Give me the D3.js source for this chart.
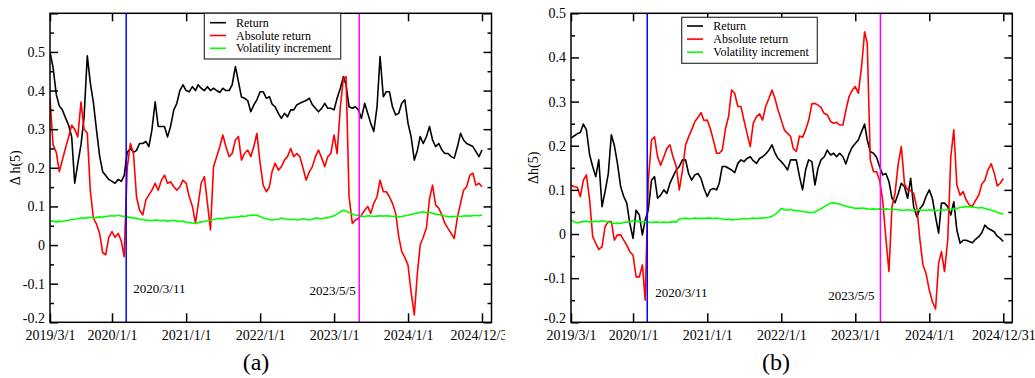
<!DOCTYPE html>
<html><head><meta charset="utf-8">
<script src="https://cdn.jsdelivr.net/npm/d3@7"></script>
<style>
body{margin:0;background:#fff}
svg{display:block}
text{font-family:"Liberation Serif","Times New Roman",serif;fill:#000}
</style>
</head><body>
<svg id="chart" width="1035" height="378"></svg>
<script>
// ---------------- DATA ----------------
const sampleDates = [
"2019-03-01","2019-03-16","2019-04-01","2019-04-16","2019-05-01","2019-05-16","2019-06-01","2019-06-16","2019-07-01","2019-07-16",
"2019-08-01","2019-08-16","2019-09-01","2019-09-16","2019-10-01","2019-10-16","2019-11-01","2019-11-16","2019-12-01","2019-12-16",
"2020-01-01","2020-01-16","2020-02-01","2020-02-16","2020-03-01","2020-03-16","2020-04-01","2020-04-16","2020-05-01","2020-05-16",
"2020-06-01","2020-06-16","2020-07-01","2020-07-16","2020-08-01","2020-08-16","2020-09-01","2020-09-16","2020-10-01","2020-10-16",
"2020-11-01","2020-11-16","2020-12-01","2020-12-16","2021-01-01","2021-01-16","2021-02-01","2021-02-16","2021-03-01","2021-03-16",
"2021-04-01","2021-04-16","2021-05-01","2021-05-16","2021-06-01","2021-06-16","2021-07-01","2021-07-16","2021-08-01","2021-08-16",
"2021-09-01","2021-09-16","2021-10-01","2021-10-16","2021-11-01","2021-11-16","2021-12-01","2021-12-16","2022-01-01","2022-01-16",
"2022-02-01","2022-02-16","2022-03-01","2022-03-16","2022-04-01","2022-04-16","2022-05-01","2022-05-16","2022-06-01","2022-06-16",
"2022-07-01","2022-07-16","2022-08-01","2022-08-16","2022-09-01","2022-09-16","2022-10-01","2022-10-16","2022-11-01","2022-11-16",
"2022-12-01","2022-12-16","2023-01-01","2023-01-16","2023-02-01","2023-02-16","2023-03-01","2023-03-16","2023-04-01","2023-04-16",
"2023-05-01","2023-05-16","2023-06-01","2023-06-16","2023-07-01","2023-07-16","2023-08-01","2023-08-16","2023-09-01","2023-09-16",
"2023-10-01","2023-10-16","2023-11-01","2023-11-16","2023-12-01","2023-12-16","2024-01-01","2024-01-16","2024-02-01","2024-02-16",
"2024-03-01","2024-03-16","2024-04-01","2024-04-16","2024-05-01","2024-05-16","2024-06-01","2024-06-16","2024-07-01","2024-07-16",
"2024-08-01","2024-08-16","2024-09-01","2024-09-16","2024-10-01","2024-10-16","2024-11-01","2024-11-16","2024-12-01","2024-12-16",
"2024-12-31"];

// Panel (a)
const returnA = [
0.50,0.46,0.39,0.36,0.35,0.33,0.31,0.28,0.16,0.21,
0.26,0.33,0.49,0.42,0.37,0.30,0.23,0.19,0.18,0.17,
0.165,0.16,0.17,0.165,0.18,0.24,0.25,0.24,0.245,0.263,
0.263,0.268,0.255,0.298,0.371,0.307,0.307,0.307,0.28,0.307,
0.35,0.367,0.40,0.415,0.40,0.397,0.41,0.40,0.415,0.406,
0.40,0.41,0.40,0.406,0.40,0.395,0.406,0.40,0.40,0.415,
0.462,0.423,0.383,0.38,0.374,0.345,0.363,0.376,0.397,0.397,
0.38,0.384,0.365,0.358,0.341,0.328,0.341,0.332,0.35,0.35,
0.363,0.367,0.371,0.374,0.38,0.363,0.354,0.345,0.354,0.367,
0.354,0.354,0.35,0.38,0.406,0.436,0.415,0.358,0.354,0.358,
0.35,0.328,0.367,0.341,0.315,0.294,0.358,0.488,0.384,0.397,
0.397,0.358,0.337,0.341,0.367,0.376,0.315,0.281,0.22,0.245,
0.281,0.263,0.281,0.307,0.272,0.255,0.263,0.246,0.237,0.237,
0.229,0.225,0.255,0.289,0.272,0.263,0.259,0.255,0.242,0.229,
0.246];
const absReturnA = [
0.38,0.26,0.24,0.19,0.22,0.25,0.28,0.31,0.30,0.28,
0.37,0.30,0.29,0.14,0.07,0.055,0.03,-0.02,-0.025,0.02,
0.035,0.02,0.03,0.01,-0.03,0.20,0.263,0.237,0.125,0.09,
0.078,0.117,0.13,0.142,0.16,0.142,0.168,0.181,0.16,0.164,
0.151,0.142,0.151,0.168,0.16,0.125,0.10,0.056,0.104,0.16,
0.177,0.108,0.039,0.203,0.229,0.255,0.285,0.255,0.229,0.237,
0.272,0.281,0.22,0.237,0.246,0.229,0.255,0.289,0.212,0.155,
0.138,0.151,0.19,0.212,0.194,0.203,0.22,0.229,0.25,0.229,
0.237,0.229,0.199,0.168,0.19,0.203,0.229,0.246,0.225,0.203,
0.229,0.237,0.285,0.237,0.358,0.432,0.436,0.125,0.056,0.065,
0.069,0.078,0.09,0.10,0.082,0.108,0.125,0.168,0.138,0.138,
0.125,0.108,0.082,0.022,-0.017,-0.032,-0.052,-0.121,-0.181,-0.073,
0.0,0.02,0.045,0.12,0.155,0.104,0.095,0.078,0.056,0.043,
0.03,0.017,0.073,0.108,0.142,0.151,0.181,0.186,0.155,0.16,
0.151];
const volIncA = [
0.063,0.062,0.060,0.062,0.061,0.063,0.064,0.066,0.067,0.068,
0.070,0.069,0.071,0.072,0.070,0.071,0.073,0.072,0.074,0.075,
0.076,0.075,0.077,0.075,0.074,0.073,0.071,0.070,0.069,0.067,
0.066,0.064,0.064,0.063,0.065,0.064,0.063,0.064,0.062,0.063,
0.064,0.062,0.061,0.062,0.059,0.058,0.057,0.056,0.058,0.060,
0.061,0.063,0.064,0.066,0.068,0.069,0.068,0.070,0.071,0.072,
0.072,0.073,0.075,0.074,0.076,0.077,0.078,0.077,0.074,0.070,
0.068,0.066,0.065,0.066,0.067,0.070,0.068,0.066,0.066,0.067,
0.065,0.066,0.068,0.067,0.065,0.067,0.070,0.069,0.068,0.070,
0.071,0.073,0.076,0.080,0.086,0.090,0.088,0.084,0.080,0.078,
0.077,0.075,0.074,0.076,0.075,0.074,0.075,0.076,0.075,0.076,
0.075,0.074,0.075,0.073,0.074,0.076,0.077,0.079,0.081,0.083,
0.085,0.086,0.084,0.085,0.082,0.080,0.079,0.077,0.075,0.074,
0.073,0.074,0.075,0.074,0.075,0.076,0.075,0.076,0.077,0.076,
0.078];

// Panel (b)
const returnB = [
0.217,0.222,0.227,0.23,0.249,0.236,0.179,0.153,0.13,0.168,
0.062,0.096,0.137,0.225,0.20,0.16,0.107,0.085,0.07,0.024,
-0.01,0.054,0.043,-0.002,0.032,0.054,0.122,0.13,0.081,0.088,
0.10,0.092,0.115,0.13,0.145,0.153,0.168,0.168,0.137,0.122,
0.134,0.137,0.126,0.103,0.085,0.10,0.103,0.10,0.115,0.153,
0.153,0.149,0.145,0.139,0.16,0.168,0.164,0.171,0.175,0.166,
0.16,0.171,0.175,0.181,0.19,0.202,0.184,0.171,0.164,0.156,
0.145,0.168,0.168,0.168,0.13,0.10,0.145,0.168,0.164,0.111,
0.149,0.168,0.175,0.19,0.179,0.183,0.175,0.183,0.175,0.159,
0.181,0.196,0.205,0.213,0.232,0.249,0.213,0.187,0.183,0.174,
0.153,0.134,0.137,0.119,0.081,0.071,0.092,0.115,0.107,0.081,
0.126,0.062,0.039,0.058,0.066,0.085,0.10,0.081,0.039,0.002,
0.07,0.07,0.062,0.043,0.073,0.009,-0.021,-0.014,-0.014,-0.017,
-0.02,-0.012,-0.006,0.003,0.02,0.013,0.009,0.005,-0.005,-0.01,
-0.017];
const absReturnB = [
0.111,0.107,0.106,0.085,0.122,0.134,0.077,-0.006,-0.021,-0.035,
-0.029,0.017,0.028,0.028,-0.014,-0.002,-0.002,-0.014,-0.025,-0.04,
-0.048,-0.097,-0.097,-0.07,-0.15,0.12,0.213,0.22,0.175,0.156,
0.175,0.194,0.202,0.175,0.153,0.10,0.145,0.202,0.22,0.236,
0.255,0.264,0.275,0.257,0.258,0.239,0.211,0.183,0.183,0.19,
0.239,0.266,0.326,0.319,0.289,0.289,0.258,0.228,0.198,0.251,
0.266,0.272,0.258,0.289,0.307,0.326,0.307,0.281,0.258,0.236,
0.228,0.221,0.194,0.187,0.222,0.219,0.236,0.257,0.295,0.296,
0.292,0.287,0.273,0.27,0.255,0.251,0.253,0.247,0.247,0.281,
0.311,0.325,0.334,0.319,0.379,0.458,0.432,0.168,0.141,0.141,
0.122,0.077,-0.01,-0.085,0.062,0.092,0.16,0.198,0.113,0.10,
0.098,0.092,0.058,-0.014,-0.07,-0.089,-0.127,-0.153,-0.17,-0.066,
-0.04,-0.085,-0.014,0.175,0.236,0.111,0.088,0.096,0.077,0.066,
0.063,0.076,0.088,0.113,0.122,0.145,0.159,0.139,0.109,0.115,
0.126];
const volIncB = [
0.032,0.028,0.025,0.027,0.028,0.029,0.027,0.028,0.029,0.028,
0.030,0.029,0.027,0.026,0.024,0.025,0.024,0.026,0.027,0.028,
0.030,0.028,0.029,0.027,0.028,0.027,0.026,0.027,0.027,0.026,
0.027,0.026,0.027,0.028,0.027,0.034,0.035,0.036,0.034,0.035,
0.036,0.035,0.036,0.035,0.036,0.036,0.035,0.036,0.035,0.034,
0.033,0.034,0.032,0.033,0.033,0.034,0.035,0.034,0.035,0.036,
0.035,0.036,0.036,0.037,0.038,0.040,0.044,0.050,0.058,0.055,
0.054,0.056,0.054,0.053,0.052,0.051,0.050,0.049,0.048,0.050,
0.054,0.057,0.062,0.066,0.070,0.071,0.069,0.068,0.065,0.063,
0.061,0.060,0.058,0.058,0.059,0.058,0.057,0.056,0.057,0.056,
0.057,0.056,0.057,0.056,0.055,0.056,0.055,0.054,0.054,0.055,
0.054,0.053,0.054,0.055,0.054,0.054,0.055,0.054,0.053,0.054,
0.055,0.054,0.055,0.056,0.057,0.058,0.060,0.061,0.062,0.062,
0.061,0.060,0.059,0.060,0.058,0.056,0.054,0.052,0.049,0.047,
0.045];

const seriesNames = ["Return","Absolute return","Volatility increment"];
const xTickDates = ["2019-03-01","2020-01-01","2021-01-01","2022-01-01","2023-01-01","2024-01-01","2024-12-31"];
const xTickLabels = ["2019/3/1","2020/1/1","2021/1/1","2022/1/1","2023/1/1","2024/1/1","2024/12/31"];
const yTicksA = [-0.2,-0.1,0,0.1,0.2,0.3,0.4,0.5,0.6];
const yLabelsA = [-0.2,-0.1,0,0.1,0.2,0.3,0.4,0.5];
const yTicksB = [-0.2,-0.1,0,0.1,0.2,0.3,0.4,0.5];
const yLabelsB = [-0.2,-0.1,0,0.1,0.2,0.3,0.4,0.5];
const eventDates = ["2020-03-11","2023-05-05"];
const eventLabels = ["2020/3/11","2023/5/5"];
const panelTitles = ["(a)","(b)"];

// ---------------- DRAW ----------------
const parse = d3.timeParse("%Y-%m-%d");
const dates = sampleDates.map(parse);
const tickDates = xTickDates.map(parse);
const evDates = eventDates.map(parse);
const seriesColors = ["#000000","#ff0000","#00ff00"];
const eventColors = ["#0000ff","#ff00ff"];
const fmt = d => (Math.round(d*10)/10).toString();
const svg = d3.select("#chart");

const panels = [
  {series:[returnA,absReturnA,volIncA], yDomain:[-0.2,0.6], yTicks:yTicksA, yLabels:yLabelsA,
   x0:50, xTickEnd:482, right:491.5, top:13.3, bottom:322.3, clipX:0, clipRight:505,
   yTitle:"Δ h(5)", yTitleX:15, legend:{x:204.3,y:13.3,w:136.4,h:45.7,lx:210,tx:236,y0:22.7,dy:12.8},
   ev:[{dx:7,y:293,anchor:"start"},{dx:-3.5,y:294.5,anchor:"end"}], title:panelTitles[0], titleX:256},
  {series:[returnB,absReturnB,volIncB], yDomain:[-0.2,0.5], yTicks:yTicksB, yLabels:yLabelsB,
   x0:571, xTickEnd:1003.3, right:1012.3, top:13.3, bottom:322.3, clipX:515, clipRight:1035,
   yTitle:"Δh(5)", yTitleX:533, legend:{x:681.7,y:17.3,w:135.6,h:46,lx:687,tx:713.3,y0:26,dy:13.1},
   ev:[{dx:8,y:297,anchor:"start"},{dx:-6,y:300,anchor:"end"}], title:panelTitles[1], titleX:776}
];

panels.forEach((p, pi) => {
  const clipId = "clip" + pi;
  svg.append("clipPath").attr("id", clipId).append("rect")
    .attr("x", p.clipX).attr("y", 0).attr("width", p.clipRight - p.clipX).attr("height", 378);
  const g = svg.append("g").attr("clip-path", `url(#${clipId})`);

  const x = d3.scaleTime().domain([tickDates[0], tickDates[tickDates.length-1]]).range([p.x0, p.xTickEnd]);
  const y = d3.scaleLinear().domain(p.yDomain).range([p.bottom, p.top]);

  const plotClip = "plot" + pi;
  svg.append("clipPath").attr("id", plotClip).append("rect")
    .attr("x", p.x0).attr("y", p.top).attr("width", p.right - p.x0).attr("height", p.bottom - p.top);
  const pg = g.append("g").attr("clip-path", `url(#${plotClip})`);
  p.series.forEach((vals, si) => {
    const line = d3.line().x((d,i) => x(dates[i])).y(d => y(d));
    pg.append("path").datum(vals).attr("d", line)
      .attr("fill", "none").attr("stroke", seriesColors[si])
      .attr("stroke-width", 1.6).attr("stroke-linejoin", "round");
  });
  evDates.forEach((d, ei) => {
    pg.append("line").attr("x1", x(d)).attr("x2", x(d))
      .attr("y1", p.top).attr("y2", p.bottom)
      .attr("stroke", eventColors[ei]).attr("stroke-width", 1.5);
    g.append("text").attr("x", x(d) + p.ev[ei].dx).attr("y", p.ev[ei].y)
      .attr("text-anchor", p.ev[ei].anchor).attr("font-size", 13).text(eventLabels[ei]);
  });

  const minor = [];
  for (let k = 0; k < p.yTicks.length - 1; k++) minor.push((p.yTicks[k] + p.yTicks[k+1]) / 2);

  const styleAxis = sel => { sel.select(".domain").remove(); sel.selectAll("line").attr("stroke","#000").attr("stroke-width",1.5); sel.selectAll("text").attr("font-size",14).attr("fill","#000"); };

  const yAxisG = g.append("g").attr("transform", `translate(${p.x0},0)`)
    .call(d3.axisLeft(y).tickValues(p.yTicks).tickSizeInner(-8).tickSizeOuter(0).tickPadding(5)
      .tickFormat(d => p.yLabels.some(v => Math.abs(v - d) < 1e-9) ? fmt(d) : ""))
    .call(styleAxis);
  // lift the lowest label slightly so it clears the date labels below
  yAxisG.selectAll(".tick").filter(d => d === p.yDomain[0]).select("text").attr("y", -4);

  g.append("g").attr("transform", `translate(${p.x0},0)`)
    .call(d3.axisLeft(y).tickValues(minor).tickSizeInner(-4).tickSizeOuter(0).tickFormat(""))
    .call(styleAxis);
  g.append("g").attr("transform", `translate(${p.right},0)`)
    .call(d3.axisRight(y).tickValues(p.yTicks).tickSizeInner(-8).tickSizeOuter(0).tickFormat(""))
    .call(styleAxis);
  g.append("g").attr("transform", `translate(${p.right},0)`)
    .call(d3.axisRight(y).tickValues(minor).tickSizeInner(-4).tickSizeOuter(0).tickFormat(""))
    .call(styleAxis);
  g.append("g").attr("transform", `translate(0,${p.bottom})`)
    .call(d3.axisBottom(x).tickValues(tickDates).tickSizeInner(-9).tickSizeOuter(0).tickPadding(8)
      .tickFormat((d,i) => xTickLabels[i]))
    .call(styleAxis);
  g.append("g").attr("transform", `translate(0,${p.top})`)
    .call(d3.axisTop(x).tickValues(tickDates).tickSizeInner(-8).tickSizeOuter(0).tickFormat(""))
    .call(styleAxis);

  g.append("rect").attr("x", p.x0).attr("y", p.top).attr("width", p.right - p.x0).attr("height", p.bottom - p.top)
    .attr("fill", "none").attr("stroke", "#000").attr("stroke-width", 1.5);

  g.append("text").attr("transform", `translate(${p.yTitleX},${(p.top+p.bottom)/2}) rotate(-90)`)
    .attr("text-anchor", "middle").attr("dy", "0.35em").attr("font-size", 14).text(p.yTitle);

  const L = p.legend;
  g.append("rect").attr("x", L.x).attr("y", L.y).attr("width", L.w).attr("height", L.h)
    .attr("fill", "#fff").attr("stroke", "#333").attr("stroke-width", 1.2);
  seriesNames.forEach((name, si) => {
    const yy = L.y0 + si * L.dy;
    g.append("line").attr("x1", L.lx).attr("x2", L.lx + 16).attr("y1", yy).attr("y2", yy)
      .attr("stroke", seriesColors[si]).attr("stroke-width", 1.6);
    g.append("text").attr("x", L.tx).attr("y", yy + 4).attr("font-size", 12).text(name);
  });

  svg.append("text").attr("x", p.titleX).attr("y", 370).attr("text-anchor", "middle")
    .attr("font-size", 24).text(p.title);
});
</script>
</body></html>
